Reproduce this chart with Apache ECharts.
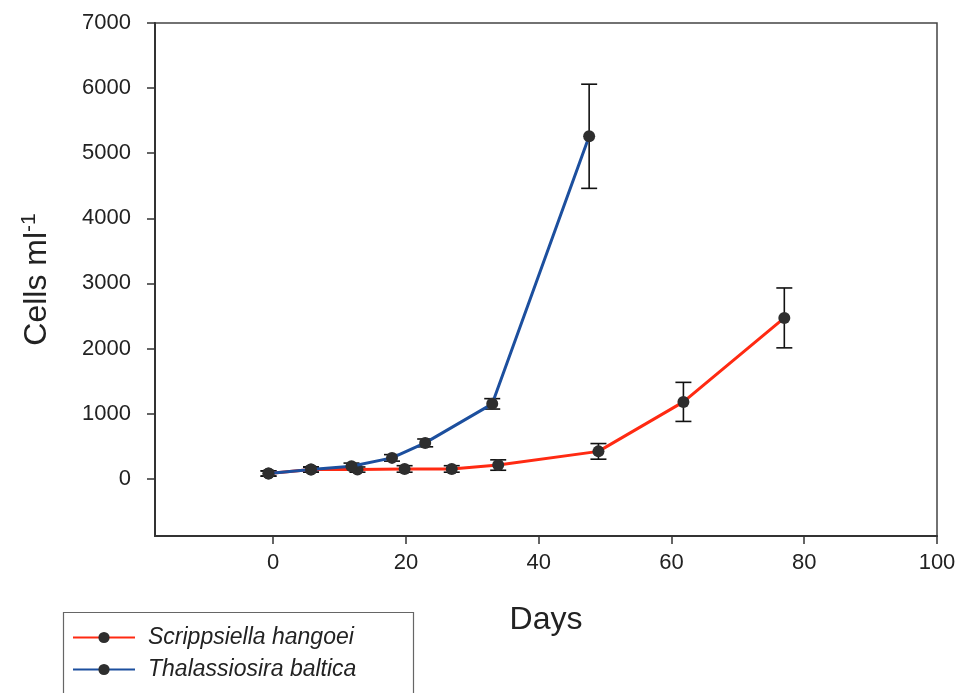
<!DOCTYPE html>
<html>
<head>
<meta charset="utf-8">
<script src="https://cdn.jsdelivr.net/npm/echarts@6/dist/echarts.min.js"></script>
<style>html,body{margin:0;padding:0;background:#fff}#c{width:962px;height:693px}</style>
</head>
<body>
<div id="c"></div>
<script>
// ---- data ----
var seriesNames = ['Scrippsiella hangoei', 'Thalassiosira baltica'];
var redDays = [-0.7, 5.7, 12.7, 19.8, 26.9, 33.9, 49.0, 61.8, 77.0];
var redVals = [80, 140, 140, 150, 150, 210, 420, 1180, 2470];
var redErr  = [40, 40, 40, 50, 50, 80, 120, 300, 460];
var blueDays = [-0.7, 5.7, 11.8, 17.9, 22.9, 33.0, 47.6];
var blueVals = [80, 140, 190, 320, 550, 1150, 5260];
var blueErr  = [40, 40, 50, 50, 60, 80, 800];
var xTicks = [0, 20, 40, 60, 80, 100];
var yTicks = [0, 1000, 2000, 3000, 4000, 5000, 6000, 7000];

function pts(d, v) { return d.map(function (x, i) { return [x, v[i]]; }); }
function errPts(d, v, e) { return d.map(function (x, i) { return [x, v[i] - e[i], v[i] + e[i]]; }); }

function errRender(params, api) {
  var lo = api.coord([api.value(0), api.value(1)]);
  var hi = api.coord([api.value(0), api.value(2)]);
  var w = 8;
  var st = { stroke: '#111', lineWidth: 1.6 };
  return {
    type: 'group',
    children: [
      { type: 'line', shape: { x1: lo[0], y1: lo[1], x2: hi[0], y2: hi[1] }, style: st },
      { type: 'line', shape: { x1: lo[0] - w, y1: lo[1], x2: lo[0] + w, y2: lo[1] }, style: st },
      { type: 'line', shape: { x1: hi[0] - w, y1: hi[1], x2: hi[0] + w, y2: hi[1] }, style: st }
    ]
  };
}

var font = 'Liberation Sans, Arial, sans-serif';
var chart = echarts.init(document.getElementById('c'));
chart.setOption({
  animation: false,
  grid: { left: 155, right: 25, top: 23, bottom: 157, show: true, borderColor: '#444', borderWidth: 1.5, backgroundColor: 'transparent' },
  graphic: [
    { type: 'rect', left: 61, top: 610, shape: { width: 350, height: 100 }, style: { fill: 'none', stroke: '#666', lineWidth: 1.2 }, silent: true }
  ],
  xAxis: {
    type: 'value', min: -17.8, max: 100,
    axisLine: { show: true, onZero: false, lineStyle: { color: '#333', width: 2 } },
    axisTick: { show: true, length: 8, customValues: xTicks, lineStyle: { color: '#333', width: 1.5 } },
    axisLabel: { customValues: xTicks, margin: 16, fontSize: 22, color: '#222', fontFamily: font, formatter: function (v) { return String(v); } },
    splitLine: { show: false },
    name: 'Days', nameLocation: 'middle', nameGap: 68,
    nameTextStyle: { fontSize: 32, color: '#222', fontFamily: font }
  },
  yAxis: {
    type: 'value', min: -880, max: 7000,
    axisLine: { show: true, onZero: false, lineStyle: { color: '#333', width: 2 } },
    axisTick: { show: true, length: 8, customValues: yTicks, lineStyle: { color: '#333', width: 1.5 } },
    axisLabel: { customValues: yTicks, margin: 24, fontSize: 22, color: '#222', fontFamily: font, formatter: function (v) { return String(v); } },
    splitLine: { show: false },
    name: '{a|Cells ml}{b|-1}', nameLocation: 'middle', nameGap: 100,
    nameTextStyle: {
      rich: {
        a: { fontSize: 32, color: '#222', fontFamily: font, lineHeight: 36 },
        b: { fontSize: 21, color: '#222', fontFamily: font, verticalAlign: 'top', lineHeight: 36, padding: [0, 0, 14, 0] }
      }
    }
  },
  legend: {
    orient: 'vertical', left: 72, top: 626,
    padding: 0, height: 80,
    itemWidth: 62, itemHeight: 14, itemGap: 9,
    textStyle: { fontSize: 23, fontStyle: 'italic', color: '#222', fontFamily: font, padding: [0, 0, 0, 8] },
    data: seriesNames
  },
  series: [
    { name: seriesNames[0] + ' err', type: 'custom', renderItem: errRender, data: errPts(redDays, redVals, redErr), z: 1, encode: { x: 0, y: [1, 2] } },
    { name: seriesNames[1] + ' err', type: 'custom', renderItem: errRender, data: errPts(blueDays, blueVals, blueErr), z: 1, encode: { x: 0, y: [1, 2] } },
    {
      name: seriesNames[0], type: 'line', data: pts(redDays, redVals), z: 3,
      symbol: 'circle', symbolSize: 12,
      lineStyle: { color: '#ff2a12', width: 3 },
      itemStyle: { color: '#2e2e2e' }
    },
    {
      name: seriesNames[1], type: 'line', data: pts(blueDays, blueVals), z: 4,
      symbol: 'circle', symbolSize: 12,
      lineStyle: { color: '#1c4f9e', width: 3 },
      itemStyle: { color: '#2e2e2e' }
    }
  ]
});
</script>
</body>
</html>
